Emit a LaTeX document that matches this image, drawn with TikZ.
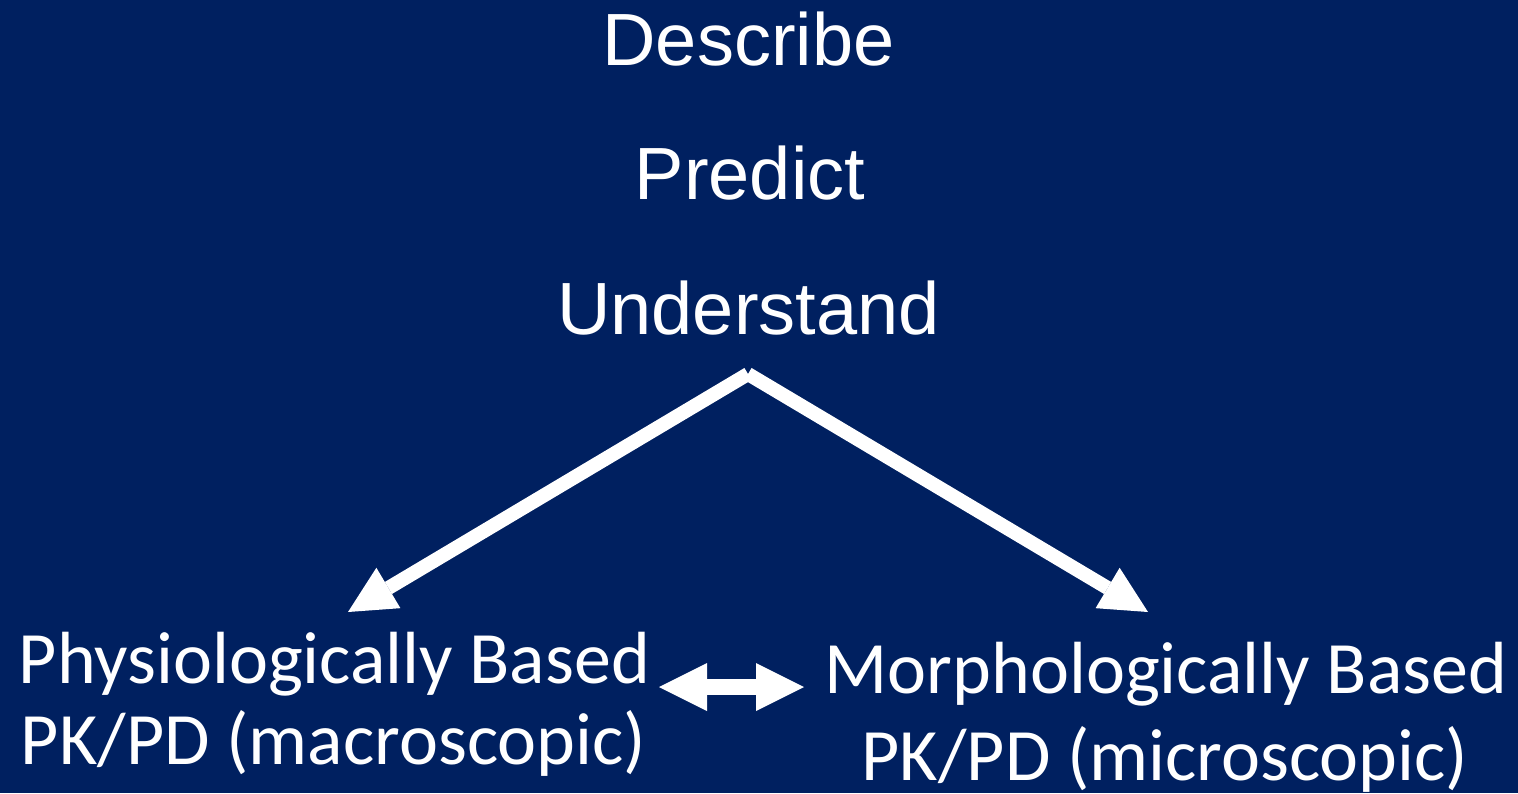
\documentclass[tikz,border=0pt]{standalone}
\usepackage{fontspec}
\setmainfont{Liberation Sans}
\newfontfamily\calibfont{Carlito}
\usetikzlibrary{arrows.meta}
\definecolor{bgblue}{RGB}{0,32,96}
\begin{document}
\begin{tikzpicture}[x=1pt,y=-1pt,
  toptext/.style={text=white, font=\fontsize{74}{80}\selectfont, inner sep=0pt, anchor=base},
  bottext/.style={text=white, font=\calibfont\fontsize{73.9}{80}\selectfont, inner sep=0pt, anchor=base},
  bigarrow/.style={draw=white, line width=14pt, line cap=butt,
    -{Triangle[length=47pt,width=47pt,line width=0pt]}},
  duoarrow/.style={draw=white, line width=16pt,
    {Triangle[length=48pt,width=48pt,line width=0pt]}-{Triangle[length=48pt,width=48pt,line width=0pt]}}
]
\fill[bgblue] (0,0) rectangle (1518,793);
\useasboundingbox (0,0) rectangle (1518,793);

\node[toptext] (describe) at (748.5,65) {Describe};
\node[toptext] (predict) at (750,199) {Predict};
\node[toptext] (understand) at (748.5,334) {Understand};

\node[bottext] (phys) at (334.5,683) {Physiologically Based};
\node[bottext] (physb) at (333.5,764) {PK/PD (macroscopic)};
\node[bottext] (morph) at (1166,693) {Morphologically Based};
\node[bottext] (morphb) at (1165,780) {PK/PD (microscopic)};

\coordinate (apex) at (748,374);
\coordinate (tipl) at (348,612);
\coordinate (tipr) at (1148,612);
\coordinate (dl) at (659,687);
\coordinate (dr) at (804,687);

\draw[bigarrow] (apex) -- (tipl);
\draw[bigarrow] (apex) -- (tipr);
\draw[duoarrow] (dl) -- (dr);
\end{tikzpicture}
\end{document}
